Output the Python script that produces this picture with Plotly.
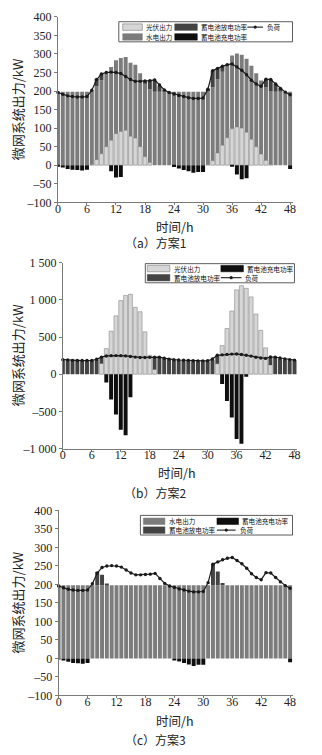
import plotly.graph_objects as go

# ---------------- data ----------------
hours = list(range(49))
x_ticks = [0, 6, 12, 18, 24, 30, 36, 42, 48]

# load (kW), same profile in all three schemes
load = [196, 191, 187, 185, 184, 184, 185, 202, 231, 246, 250, 251, 250, 247, 239, 231, 226,
        226, 227, 228, 230, 216, 203, 196, 192, 188, 185, 182, 180, 180, 181, 205, 255, 261,
        267, 271, 273, 265, 256, 244, 229, 219, 213, 232, 231, 219, 207, 197, 190]

# scheme 1
pv_a = [0, 0, 0, 0, 0, 0, 0, 2, 15, 31, 50, 67, 85, 91, 94, 78, 73, 50, 23, 7,
        0, 0, 0, 0, 0, 0, 0, 0, 0, 0, 0, 2, 12, 33, 54, 74, 98, 103, 100, 89, 70, 50, 30, 13, 2,
        0, 0, 0, 0]
hydro_a = [198, 198, 198, 198, 198, 198, 198, 198, 198, 198, 198, 198, 198, 198, 198, 198, 198,
           198, 198, 198, 198, 198, 198, 198, 198, 198, 198, 198, 198, 198, 198, 198, 198, 198,
           198, 198, 198, 198, 198, 198, 198, 198, 198, 198, 198, 198, 198, 198, 198]
dis_a = [0, 0, 0, 0, 0, 0, 0, 0, 20, 17, 0, 0, 0, 0, 0, 0, 0, 0, 5, 22, 30, 16, 5,
         0, 0, 0, 0, 0, 0, 0, 0, 6, 45, 30, 14, 0, 0, 0, 0, 0, 0, 0, 0, 20, 31, 21, 9, 0, 0]
chg_a = [-2, -6, -10, -12, -13, -14, -12, 0, 0, 0, 0, -16, -33, -32, 0, 0, 0, 0, 0, 0, 0, 0, 0, 0,
         -5, -9, -13, -16, -20, -18, -18, 0, 0, 0, 0, 0, -3, -25, -38, -35, 0, 0, 0, 0, 0, 0, 0, 0,
         -10]

# scheme 2
pv_b = [0, 0, 0, 0, 0, 0, 0, 0, 145, 345, 580, 785, 990, 1060, 1075, 900, 840, 570, 255, 65,
        0, 0, 0, 0, 0, 0, 0, 0, 0, 0, 0, 0, 142, 385, 615, 850, 1135, 1190, 1155, 1040, 810,
        590, 355, 125, 0, 0, 0, 0, 0]
dis_b = [188, 183, 179, 177, 176, 176, 177, 192, 84, 0, 0, 0, 0, 0, 0, 0, 0, 0, 0, 158, 220,
         206, 195, 188, 184, 180, 177, 174, 172, 172, 173, 196, 110, 0, 0, 0, 0, 0, 0, 0, 0, 0,
         0, 100, 222, 210, 199, 189, 182]
chg_b = [0, 0, 0, 0, 0, 0, 0, 0, 0, -110, -340, -540, -745, -820, -310, 0, 0, 0, 0, 0, 0, 0, 0,
         0, 0, 0, 0, 0, 0, 0, 0, 0, 0, -130, -360, -580, -870, -935, -35, 0, 0, 0, 0, 0, 0, 0, 0,
         0, 0]

# scheme 3
hydro_c = [198, 198, 198, 198, 198, 198, 198, 198, 198, 198, 198, 198, 198, 198, 198, 198, 198,
           198, 198, 198, 198, 198, 198, 198, 198, 198, 198, 198, 198, 198, 198, 198, 198, 198,
           198, 198, 198, 198, 198, 198, 198, 198, 198, 198, 198, 198, 198, 198, 198]
dis_c = [0, 0, 0, 0, 0, 0, 0, 0, 36, 28, 4, 0, 0, 0, 0, 0, 0, 0, 0, 0, 0, 0, 0, 0, 0, 0, 0, 0,
         0, 0, 0, 0, 58, 37, 6, 0, 0, 0, 0, 0, 0, 0, 0, 0, 0, 0, 0, 0, 0]
chg_c = [-2, -5, -9, -12, -13, -14, -12, 0, 0, 0, 0, 0, 0, 0, 0, 0, 0, 0, 0, 0, 0, 0, 0, 0,
         -5, -8, -12, -16, -20, -17, -17, 0, 0, 0, 0, 0, 0, 0, 0, 0, 0, 0, 0, 0, 0, 0, 0, 0, -10]

yticks_small = [-100, -50, 0, 50, 100, 150, 200, 250, 300, 350, 400]
yticks_big = [-1000, -500, 0, 500, 1000, 1500]
yticktext_big = ["–1 000", "–500", "0", "500", "1 000", "1 500"]

# ---------------- style ----------------
W, H = 322, 755
SERIF = "Liberation Serif, Noto Sans CJK SC"
CJK = "Noto Sans CJK SC"
AX = "#7a7a7a"
C_PV = "#d6d6d6"
C_HYDRO = "#7c7c7c"
C_DIS = "#434343"
C_CHG = "#0e0e0e"
C_LOAD = "#1a1a1a"


def px(xp):
    return xp / W


def py(yp):
    return 1 - yp / H


def nz(vals):
    return [v if v != 0 else None for v in vals]


def minus(v):
    return ("–" + str(-v)) if v < 0 else str(v)


fig = go.Figure()


def bar(y, color, xa, ya, outline=None):
    fig.add_trace(go.Bar(
        x=hours, y=nz(y), xaxis=xa, yaxis=ya, showlegend=False,
        marker=dict(color=color,
                    line=dict(color=outline or color, width=0.6 if outline else 0)),
    ))


def load_line(xa, ya):
    fig.add_trace(go.Scatter(
        x=hours, y=load, xaxis=xa, yaxis=ya, mode="lines+markers", showlegend=False,
        cliponaxis=False,
        line=dict(color=C_LOAD, width=1.2),
        marker=dict(color=C_LOAD, size=3.4),
    ))


# panel (a): PV at the bottom, hydro stacked on it, discharge on top, charging below zero
bar(pv_a, C_PV, "x", "y", outline="#8a8a8a")
bar(hydro_a, C_HYDRO, "x", "y")
bar(dis_a, C_DIS, "x", "y")
bar(chg_a, C_CHG, "x", "y")
load_line("x", "y")

# panel (b)
bar(pv_b, C_PV, "x2", "y2", outline="#8a8a8a")
bar(dis_b, C_DIS, "x2", "y2")
bar(chg_b, C_CHG, "x2", "y2")
load_line("x2", "y2")

# panel (c)
bar(hydro_c, C_HYDRO, "x3", "y3")
bar(dis_c, C_DIS, "x3", "y3")
bar(chg_c, C_CHG, "x3", "y3")
load_line("x3", "y3")


def xaxis(x0, x1, anchor):
    return dict(domain=[px(x0), px(x1)], range=[0, 48.6], anchor=anchor,
                tickmode="array", tickvals=x_ticks,
                showline=True, linecolor=AX, linewidth=1, ticks="outside", ticklen=2,
                tickcolor=AX, showgrid=False, zeroline=False, ticklabelstandoff=-7,
                tickfont=dict(family=SERIF, size=12, color="#222"))


def yaxis(y0, y1, anchor, rng, vals, texts):
    return dict(domain=[py(y1), py(y0)], range=rng, anchor=anchor,
                tickmode="array", tickvals=vals, ticktext=texts,
                showline=True, linecolor=AX, linewidth=1, ticks="outside", ticklen=3,
                tickcolor=AX, showgrid=False, zeroline=False,
                tickfont=dict(family=SERIF, size=12, color="#222"))


small_text = [minus(v) for v in yticks_small]

fig.update_layout(
    width=W, height=H,
    margin=dict(l=0, r=0, t=0, b=0),
    paper_bgcolor="white", plot_bgcolor="white",
    barmode="relative", bargap=0.18,
    xaxis=xaxis(56, 295.5, "y"),
    yaxis=yaxis(10, 199, "x", [-100, 400], yticks_small, small_text),
    xaxis2=xaxis(61, 300, "y2"),
    yaxis2=yaxis(260.5, 450, "x2", [-1000, 1500], yticks_big, yticktext_big),
    xaxis3=xaxis(56.7, 295.5, "y3"),
    yaxis3=yaxis(513, 701.5, "x3", [-100, 400], yticks_small, small_text),
)

annotations = []
shapes = []


def text(x, y, s, size, angle=0, xanchor="center", family=CJK, color="#222"):
    annotations.append(dict(x=px(x), y=py(y), xref="paper", yref="paper", text=s,
                            showarrow=False, textangle=angle, xanchor=xanchor,
                            yanchor="middle", font=dict(family=family, size=size, color=color)))


# axis titles and captions
for ymid, xt_y, cap_y, cap, xmid in [(104.5, 224, 240, "（a）方案1", 175),
                                      (355, 474, 495, "（b）方案2", 177),
                                      (607, 727, 746, "（c）方案3", 175)]:
    text(15, ymid, "微网系统出力/kW", 13, angle=-90)
    text(xmid, xt_y, "时间/h", 12.5)
    text(155, cap_y, cap, 12)


def rect(x0, y0, x1, y1, fill, line="#555", lw=0.5):
    shapes.append(dict(type="rect", xref="paper", yref="paper",
                       x0=px(x0), x1=px(x1), y0=py(y1), y1=py(y0),
                       fillcolor=fill, line=dict(color=line, width=lw), layer="above"))


def legend_box(x0, y0, x1, y1):
    rect(x0, y0, x1, y1, "white", line="#333", lw=0.8)


def swatch(x0, x1, yc, color, label):
    rect(x0, yc - 3.3, x1, yc + 3.3, color, line="#666" if color == C_PV else color, lw=0.5)
    text(x1 + 2, yc, label, 6.6, xanchor="left", color="#111")


def line_item(x0, x1, yc, label):
    shapes.append(dict(type="line", xref="paper", yref="paper", x0=px(x0), x1=px(x1),
                       y0=py(yc), y1=py(yc), line=dict(color=C_LOAD, width=1.1), layer="above"))
    xm = (x0 + x1) / 2
    shapes.append(dict(type="circle", xref="paper", yref="paper", x0=px(xm - 1.6),
                       x1=px(xm + 1.6), y0=py(yc + 1.6), y1=py(yc - 1.6),
                       fillcolor=C_LOAD, line=dict(color=C_LOAD, width=0), layer="above"))
    text(x1 + 2, yc, label, 6.6, xanchor="left", color="#111")


# legend (a)
legend_box(118, 15, 295, 35.5)
swatch(122, 142, 20.5, C_PV, "光伏出力")
swatch(175, 198, 20.5, C_DIS, "蓄电池放电功率")
line_item(249, 265, 20.5, "负荷")
swatch(122, 142, 30.5, C_HYDRO, "水电出力")
swatch(175, 198, 30.5, C_CHG, "蓄电池充电功率")

# legend (b)
legend_box(145, 261.5, 297, 281)
swatch(147, 170, 266.5, C_PV, "光伏出力")
swatch(222, 245, 266.5, C_CHG, "蓄电池充电功率")
swatch(147, 170, 275.8, C_DIS, "蓄电池放电功率")
line_item(222, 243, 275.8, "负荷")

# legend (c)
legend_box(140, 518, 295, 538)
swatch(143, 165, 524, C_HYDRO, "水电出力")
swatch(218, 240, 524, C_CHG, "蓄电池充电功率")
swatch(143, 165, 533, C_DIS, "蓄电池放电功率")
line_item(218, 237, 533, "负荷")

fig.update_layout(annotations=annotations, shapes=shapes)

fig.write_html("out.html")
